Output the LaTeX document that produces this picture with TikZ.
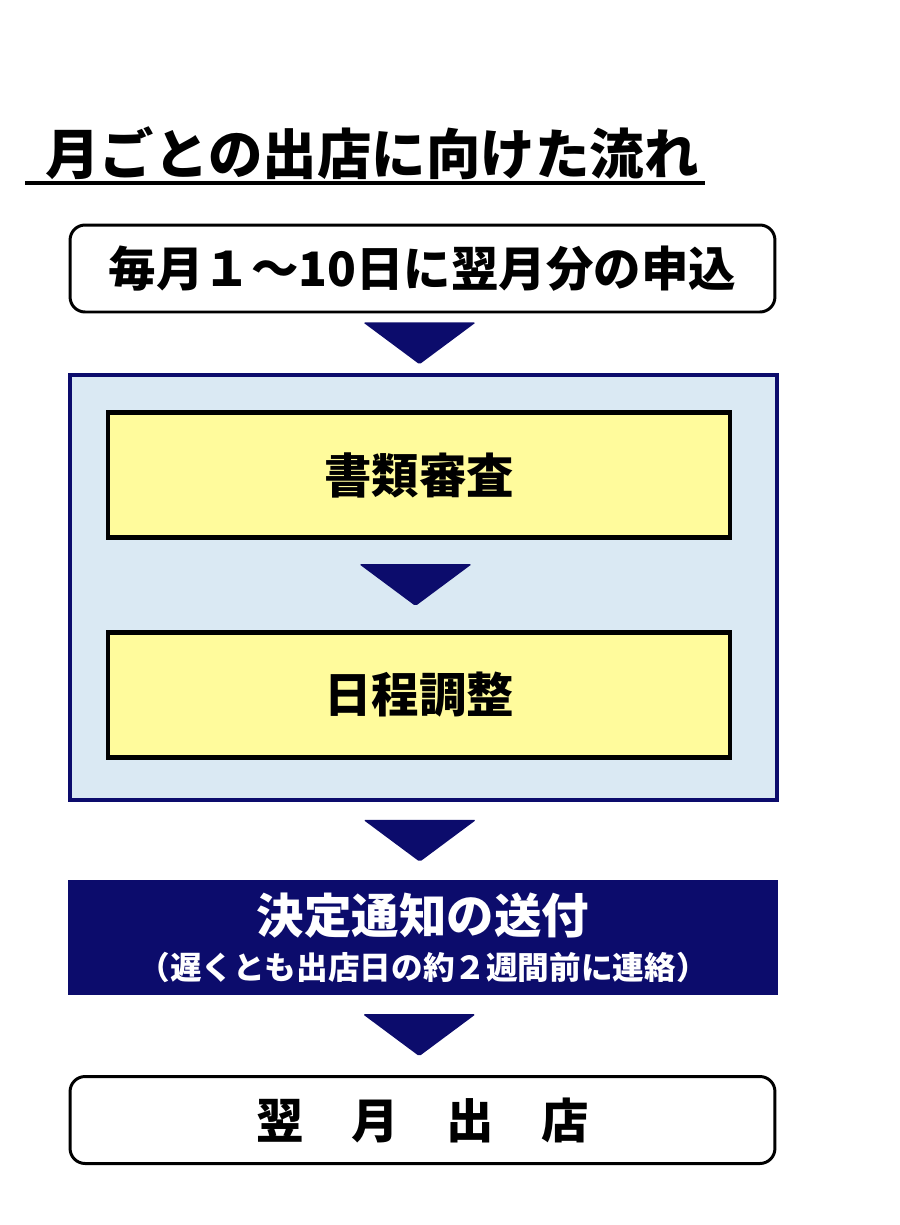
\documentclass[tikz,border=0pt]{standalone}
\usepackage{fontspec}
\setmainfont{Noto Sans CJK JP}
\usetikzlibrary{calc,positioning}
\definecolor{navy}{HTML}{0C0C6C}
\definecolor{paleblue}{HTML}{DAE9F3}
\definecolor{paleyel}{HTML}{FFFB9C}
\newcommand\bigjp{\fontsize{27}{30}\selectfont\bfseries}
\newcommand\smalljp{\fontsize{18}{22}\selectfont\bfseries}
% down triangle half way between two boxes
\newcommand\flowtri[2]{%
  \fill[arr] ($(#1.south)!0.5!(#2.north)+(-60,-21)$) -- ++(113,0)
    -- ($(#1.south)!0.5!(#2.north)+(-3.5,21)$) -- cycle;}

\begin{document}
\begin{tikzpicture}[
  x=0.02cm, y=-0.02cm,
  outline/.style={draw=black, line width=1.7pt, rounded corners=0.3cm, fill=white, minimum width=14.1cm, minimum height=1.74cm, inner sep=0pt, font=\bigjp},
  task/.style={draw=black, line width=2.4pt, fill=paleyel, minimum width=12.44cm, minimum height=2.5cm, inner sep=0pt, font=\bigjp},
  phase/.style={draw=navy, line width=2.2pt, fill=paleblue, minimum width=14.14cm, minimum height=8.5cm, inner sep=0pt},
  notice/.style={fill=navy, text=white, minimum width=14.2cm, minimum height=2.3cm, inner sep=0pt, align=center},
  arr/.style={fill=navy, rounded corners=1pt},
]
\useasboundingbox (0,0) rectangle (900,1225);
% title
\node[font=\fontsize{31}{34}\selectfont\bfseries, inner sep=0pt] (title) at (372,153) {月ごとの出店に向けた流れ};
\draw[line width=2.3pt] (25,183) -- (705,183);
% application
\node[outline] (apply) at (422.5,268.5) {毎月１～10日に翌月分の申込};
% screening block
\node[phase] (phase) at (423.5,587.5) {};
\node[task] (docs) at (419,475) {書類審査};
\node[task] (sched) at (419,695) {日程調整};
% decision notice
\node[notice] (notice) at (423,937.5)
  {\bigjp 決定通知の送付\\[7pt]\smalljp （遅くとも出店日の約２週間前に連絡）};
% opening
\node[outline] (open) at (422.5,1120) {翌　月　出　店};
% arrows
\flowtri{apply}{phase}
\flowtri{docs}{sched}
\flowtri{phase}{notice}
\flowtri{notice}{open}
\end{tikzpicture}
\end{document}
